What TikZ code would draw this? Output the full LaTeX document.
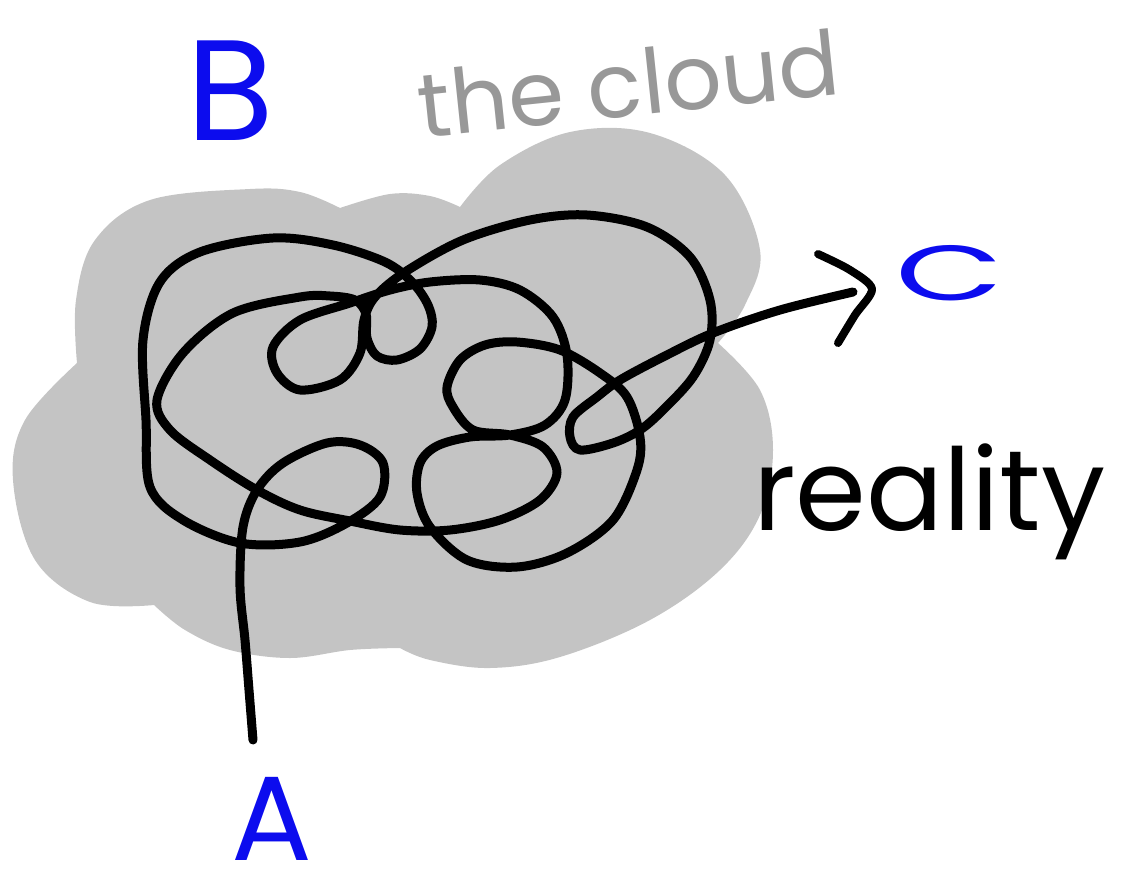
\documentclass[tikz,border=0pt]{standalone}
\usepackage{fontspec}
\newfontfamily\hand{Poppins}
\definecolor{cloudgray}{RGB}{196,196,196}
\definecolor{textgray}{RGB}{152,152,152}
\definecolor{penblue}{RGB}{12,12,238}
\begin{document}
\begin{tikzpicture}[x=1pt,y=-1pt,
  scribble/.style={line width=9pt, line cap=round, line join=round, black},
  bluelabel/.style={text=penblue, inner sep=0pt, anchor=base, font=\hand},
  word/.style={inner sep=0pt, font=\hand},
  lobe/.style={smooth, tension=0.6}]
\useasboundingbox (0,0) rectangle (1121,881);
% the cloud: lobes joined at their notches
\fill[cloudgray]
  plot[lobe] coordinates {(77,363) (76,300) (95,240) (150,200) (250,189) (300,192) (340,208)}
  -- plot[lobe] coordinates {(340,208) (390,194) (430,196) (460,207)}
  -- plot[lobe] coordinates {(460,207) (500,165) (570,132) (650,133) (725,175) (760,250) (745,305) (718,343)}
  -- plot[lobe] coordinates {(718,343) (760,390) (773,450) (760,515) (720,570) (650,620) (560,657) (490,668) (430,660) (400,648)}
  -- plot[lobe] coordinates {(400,648) (350,650) (290,658) (230,650) (185,630) (154,605)}
  -- plot[lobe] coordinates {(154,605) (90,602) (35,560) (13,480) (25,420) (77,363)}
  -- cycle;
% labels
\node[bluelabel, font=\hand\fontsize{143}{143}\selectfont] (B) at (230,140) {B};
\node[bluelabel, font=\hand\fontsize{120}{120}\selectfont] (A) at (272,860) {A};
\node[bluelabel, font=\hand\fontsize{78}{78}\selectfont, xscale=1.8] (C) at (950,300) {C};
\node[word, text=textgray, anchor=base, rotate=6, font=\hand\fontsize{90}{90}\selectfont] (cloud) at (632,116) {the cloud};
\node[word, text=black, anchor=base west, font=\hand\fontsize{114}{114}\selectfont] (reality) at (753,530) {reality};
% the scribble from A to C
\coordinate (start) at (253,740);
\coordinate (tip) at (853,292);
\draw[scribble] plot[smooth, tension=0.55] coordinates {
 (start) (249,690) (245,640) (240,587) (243,527) (257,490) (283,463) (327,443)
 (360,445) (383,463) (380,497) (347,523) (300,542) (240,543) (183,520)
 (150,487) (146,420) (143,340) (160,282) (200,252) (273,238) (333,245)
 (385,262) (412,282) (428,305) (432,327) (420,349) (397,360) (377,356)
 (367,338) (366,314) (355,300) (330,296) (300,297) (233,313) (183,353)
 (157,400) (170,430) (210,460) (257,490) (300,510) (350,521) (400,530)
 (450,530) (500,520) (540,500) (557,473) (543,447) (510,435) (473,430)
 (453,407) (447,387) (460,360) (485,345) (517,342) (560,350) (600,373)
 (627,397) (640,437) (637,470) (613,520) (567,553) (517,567) (467,560)
 (430,527) (417,493) (420,463) (437,446) (470,437) (510,435) (545,425)
 (565,400) (567,355) (553,317) (520,290) (480,280) (430,282) (390,290)
 (350,303) (300,320) (273,347) (277,373) (300,390) (340,380) (360,353)
 (364,320) (375,297) (405,272) (463,240) (530,220) (587,215) (647,227)
 (690,257) (710,300) (710,340) (693,377) (663,410) (640,430) (613,443)
 (580,450) (570,437) (573,417) (597,397) (620,380) (663,357) (713,333)
 (780,310) (tip)};
% hand-drawn arrow head
\draw[scribble, line width=8pt] plot[smooth, tension=0.5] coordinates {
 (818,254) (850,270) (872,289) (855,315) (838,343)};
\end{tikzpicture}
\end{document}
